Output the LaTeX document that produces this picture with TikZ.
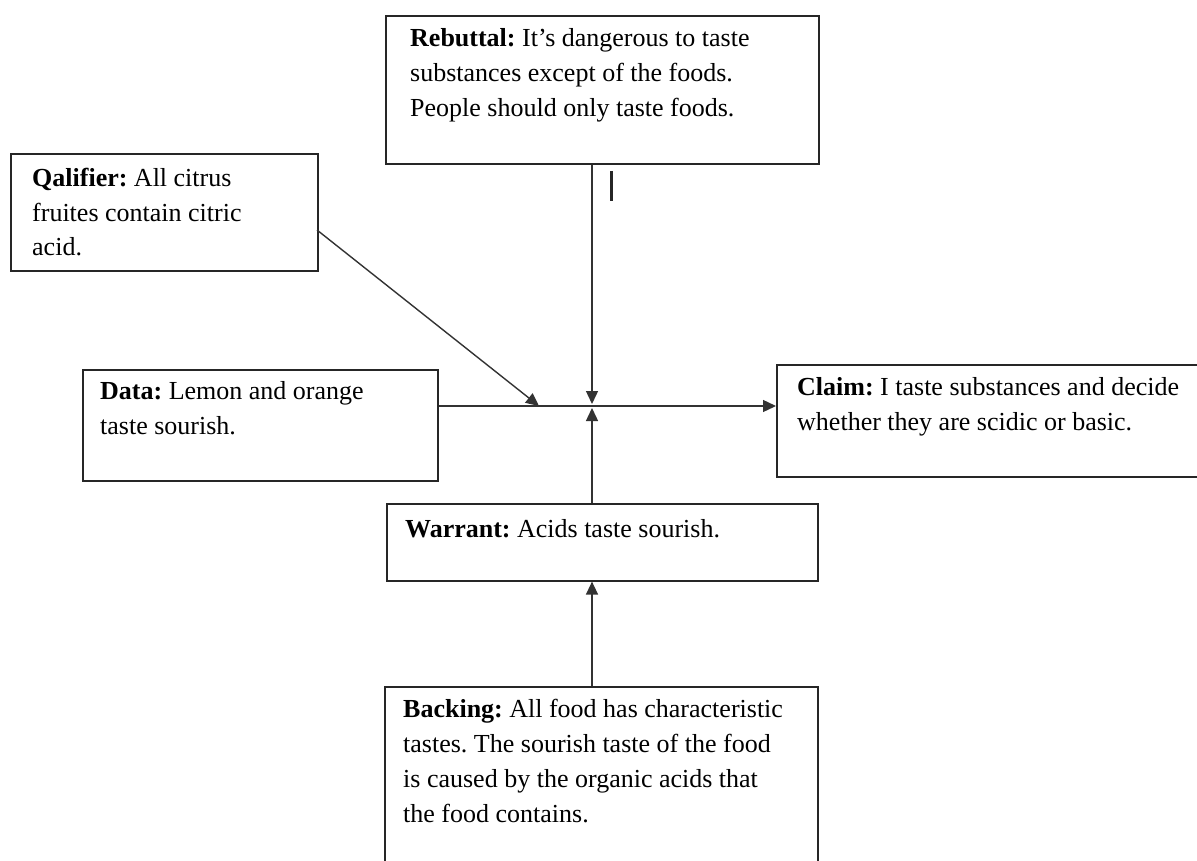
\documentclass[tikz,border=0pt]{standalone}
\usepackage{fontspec}
\setmainfont{Liberation Serif}
\usetikzlibrary{arrows.meta,calc}
\begin{document}
\begin{tikzpicture}[x=1pt,y=-1pt,
  box/.style={draw=black!85, line width=1.6pt, rectangle, inner sep=0pt, anchor=north west},
  txt/.style={anchor=base west, align=left, inner sep=0pt, font={\fontsize{26}{35}\selectfont\frenchspacing}, text=black},
  conn/.style={draw=black!80, line width=1.4pt},
  arr/.style={conn, -{Triangle[length=13pt,width=12pt]}}]
\useasboundingbox (0,0) rectangle (1197,861);
\clip (0,0) rectangle (1197,861);
% boxes
\node[box, minimum width=433pt, minimum height=148pt] (reb) at (385,15) {};
\node[box, minimum width=307pt, minimum height=117pt] (qual) at (10,153) {};
\node[box, minimum width=355pt, minimum height=111pt] (data) at (82,369) {};
\node[box, minimum width=440pt, minimum height=112pt] (claim) at (776,364) {};
\node[box, minimum width=431pt, minimum height=77pt] (war) at (386,503) {};
\node[box, minimum width=433pt, minimum height=220pt] (back) at (384,686) {};
% texts (anchored at the baseline of their last line)
\node[txt] (rebt) at (410,117) {\textbf{Rebuttal:} It's dangerous to taste\\substances except of the foods.\\People should only taste foods.};
\node[txt] (qualt) at (32,256) {\textbf{Qalifier:} All citrus\\fruites contain citric\\acid.};
\node[txt] (datat) at (100,434) {\textbf{Data:} Lemon and orange\\taste sourish.};
\node[txt] (claimt) at (797,430) {\textbf{Claim:} I taste substances and decide\\whether they are scidic or basic.};
\node[txt] (wart) at (405,537) {\textbf{Warrant:} Acids taste sourish.};
\node[txt] (backt) at (403,822) {\textbf{Backing:} All food has characteristic\\tastes. The sourish taste of the food\\is caused by the organic acids that\\the food contains.};
% connectors
\coordinate (j) at (592,406);
\coordinate (qa) at (317,230);
\coordinate (qe) at (539,406);
\coordinate (jt) at (592,404);
\coordinate (jb) at (592,408);
\coordinate (m1) at (611,171);
\coordinate (m2) at (611,201);
\draw[arr] (data.east |- j) -- (claim.west |- j);
\draw[arr] (qa) -- (qe);
\draw[arr] (reb.south -| j) -- (jt);
\draw[arr] (war.north -| j) -- (jb);
\draw[arr] (back.north -| j) -- (war.south -| j);
\draw[draw=black!85, line width=3pt] (m1) -- (m2);
\end{tikzpicture}
\end{document}
